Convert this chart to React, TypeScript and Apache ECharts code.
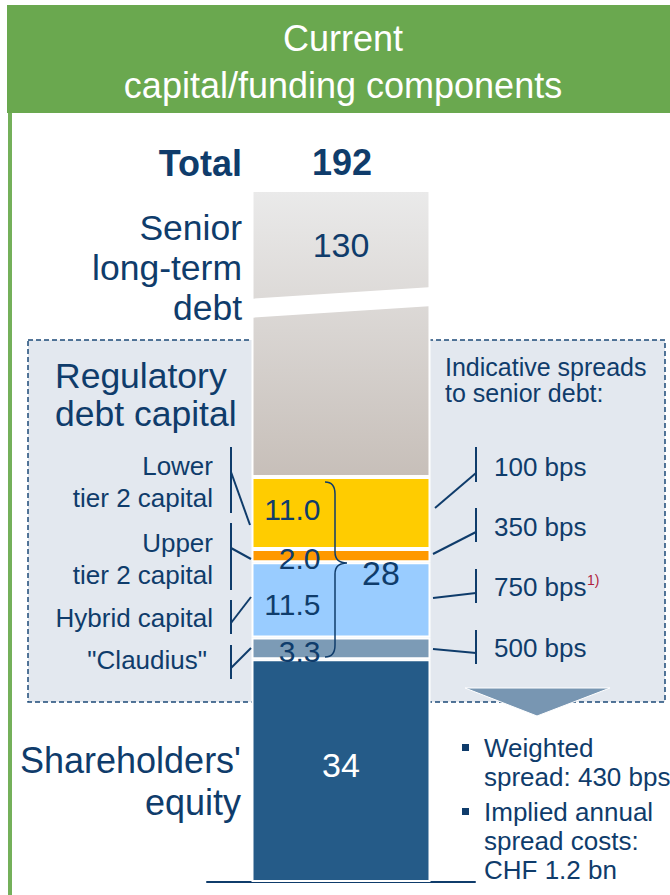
import React, { useEffect, useRef } from 'react';
import * as echarts from 'echarts';

// ---------- data ----------
const categories = ['Current'];
const segmentNames = ["Shareholders' equity", '"Claudius"', 'Hybrid capital', 'Upper tier 2 capital', 'Lower tier 2 capital', 'Senior long-term debt'];
const segmentValues = [34, 3.3, 11.5, 2.0, 11.0, 130];
const regulatoryIndices = [1, 2, 3, 4];
const spreadLabels = ['500 bps', '750 bps', '350 bps', '100 bps']; // for "Claudius", Hybrid, Upper T2, Lower T2
const bulletLines = [['Weighted', 'spread: 430 bps'], ['Implied annual', 'spread costs:', 'CHF 1.2 bn']];
const axisBreak = { start: 87, end: 176.1, gap: 2.9 };

// ---------- style ----------
const FF = '"Liberation Sans", Arial, Helvetica, sans-serif';
const NAVY = '#0f3c6b';
const GREEN = '#6aa84f';
const BIG = 35.5;
const SMALL = 26;
const segmentColors: any[] = [
  '#255b88',
  '#7c9bb6',
  '#99ccff',
  '#ff9900',
  '#ffcc00',
  new echarts.graphic.LinearGradient(0, 0, 0, 1, [
    { offset: 0, color: '#eaeaea' },
    { offset: 1, color: '#c7bfb9' },
  ]),
];
const labelNudge = [-6, 3, 5, 2.5, -3.5, 0];

echarts.graphic.registerShape(
  'brace',
  echarts.graphic.extendPath(
    'M0,0 C6,0 10,3 10,12 L10,70 C10,77 13,81 22,81 C13,81 10,85 10,92 L10,163 C10,172 6,175 0,175',
    {}
  )
);

function txt(text: string, x: number, y: number, size: number, align = 'left', opts: any = {}) {
  return {
    type: 'text', x, y, z: 10, silent: true,
    style: {
      text, fill: opts.fill || NAVY, fontSize: size, fontFamily: FF,
      fontWeight: opts.bold ? 'bold' : 'normal', align, verticalAlign: 'middle',
    },
  };
}
function ln(x1: number, y1: number, x2: number, y2: number, w = 2) {
  return { type: 'line', z: 10, silent: true, shape: { x1, y1, x2, y2 }, style: { stroke: NAVY, lineWidth: w } };
}

function fmt(i: number) {
  const v = segmentValues[i];
  return i === 0 || i === 5 ? String(v) : v.toFixed(1);
}

function labelFor(i: number) {
  if (i === 0) {
    return { show: true, position: 'inside', offset: [0, labelNudge[i]], color: '#fff', fontSize: 34, fontFamily: FF, formatter: fmt(i) };
  }
  if (i === 5) {
    return { show: true, position: ['50%', 55], align: 'center', verticalAlign: 'middle', color: NAVY, fontSize: 34, fontFamily: FF, formatter: fmt(i) };
  }
  return {
    show: true, position: [69, '50%'], align: 'right', verticalAlign: 'middle',
    offset: [0, labelNudge[i]], color: NAVY, fontSize: 30, fontFamily: FF, formatter: fmt(i),
  };
}

export default function App() {
  const ref = useRef<HTMLDivElement>(null);
  useEffect(() => {
    if (!ref.current) return;
    const chart = echarts.init(ref.current, undefined, { renderer: 'svg' });
    const total = segmentValues.reduce((a, b) => a + b, 0);
    const regTotal = regulatoryIndices.reduce((a, i) => a + segmentValues[i], 0);
    const barWidth = 179;

    chart.setOption({
      animation: false,
      grid: { left: 207, right: 195, top: 190, bottom: 13, containLabel: false },
      xAxis: {
        type: 'category', data: categories,
        axisLine: { show: true, lineStyle: { color: NAVY, width: 2 } },
        axisTick: { show: false }, axisLabel: { show: false }, splitLine: { show: false },
      },
      yAxis: {
        type: 'value', min: 0, max: total,
        axisLine: { show: false }, axisTick: { show: false }, axisLabel: { show: false }, splitLine: { show: false },
        breaks: [{ start: axisBreak.start, end: axisBreak.end, gap: axisBreak.gap }],
        breakArea: { show: false, itemStyle: { color: 'rgba(0,0,0,0)', borderWidth: 0 } },
      },
      series: segmentValues.map((v, i) => ({
        name: segmentNames[i], type: 'bar', stack: 'total', barWidth, silent: true,
        data: [v],
        itemStyle: { color: segmentColors[i], borderColor: '#fff', borderWidth: 2 },
        label: labelFor(i),
      })),
    });

    const p1 = chart.convertToPixel({ gridIndex: 0 }, [0, axisBreak.start]) as number[];
    const p2 = chart.convertToPixel({ gridIndex: 0 }, [0, axisBreak.end]) as number[];
    const yc = (p1[1] + p2[1]) / 2;
    const half = Math.abs(p1[1] - p2[1]) / 2;
    const xl = p1[0] - barWidth / 2 - 2;
    const xr = p1[0] + barWidth / 2 + 2;
    const slant = 6;

    const g: any[] = [
      // header
      { type: 'rect', z: 1, silent: true, shape: { x: 7, y: 5, width: 663, height: 108 }, style: { fill: GREEN } },
      { type: 'rect', z: 1, silent: true, shape: { x: 8, y: 113, width: 4, height: 782 }, style: { fill: '#74b05a' } },
      txt('Current', 343, 38, 36, 'center', { fill: '#fff' }),
      txt('capital/funding components', 343, 85, 36, 'center', { fill: '#fff' }),
      // regulatory box
      { type: 'rect', z: 0, silent: true, shape: { x: 28, y: 340, width: 637, height: 362 }, style: { fill: '#e3e8ef', stroke: '#1c4a78', lineWidth: 1.5, lineDash: [5, 3] } },
      // totals
      txt('Total', 242, 163, 36, 'right', { bold: true }),
      txt(String(Math.round(total)), p1[0] + 1, 162, 36, 'center', { bold: true }),
      // left labels
      txt('Senior', 242, 228, BIG, 'right'),
      txt('long-term', 242, 268, BIG, 'right'),
      txt('debt', 242, 308, BIG, 'right'),
      txt('Regulatory', 55, 376, BIG, 'left'),
      txt('debt capital', 55, 414, BIG, 'left'),
      txt('Lower', 213, 466, SMALL, 'right'),
      txt('tier 2 capital', 213, 498, SMALL, 'right'),
      txt('Upper', 213, 543, SMALL, 'right'),
      txt('tier 2 capital', 213, 575, SMALL, 'right'),
      txt(segmentNames[2], 213, 618, SMALL, 'right'),
      txt(segmentNames[1], 207, 660, SMALL, 'right'),
      txt('Shareholders\'', 241, 760, 36, 'right'),
      txt('equity', 241, 802, 36, 'right'),
      // left connectors
      ln(231, 447, 231, 513), ln(231, 472, 250, 525),
      ln(231, 523, 231, 590), ln(231, 548, 251, 559),
      ln(231, 600, 231, 634), ln(231, 623, 251, 597),
      ln(231, 645, 231, 679), ln(231, 668, 251, 648),
      // right texts
      txt('Indicative spreads', 445, 366.5, 25, 'left'),
      txt('to senior debt:', 445, 393, 25, 'left'),
      txt(spreadLabels[3], 494, 467, SMALL, 'left'),
      txt(spreadLabels[2], 494, 527, SMALL, 'left'),
      txt(spreadLabels[1], 494, 587, SMALL, 'left'),
      txt('1)', 587, 580, 14, 'left', { fill: '#b01e3c' }),
      txt(spreadLabels[0], 494, 648, SMALL, 'left'),
      // right connectors
      ln(476, 447, 476, 482), ln(476, 473, 435, 508),
      ln(476, 508, 476, 542), ln(476, 532, 433, 554),
      ln(476, 569, 476, 603), ln(476, 593, 433, 598),
      ln(476, 630, 476, 664), ln(476, 653, 433, 649),
      // brace + regulatory total
      { type: 'brace', z: 10, silent: true, x: 325, y: 482, style: { fill: 'none', stroke: NAVY, lineWidth: 1.5 } },
      txt(String(Math.round(regTotal)), 381, 573, 34, 'center'),
      // arrow
      { type: 'polygon', z: 10, silent: true, shape: { points: [[465, 688], [610, 688], [537, 716]] }, style: { fill: '#7896b2', stroke: '#fff', lineWidth: 1 } },
      // axis break band
      {
        type: 'polygon', z: 20, silent: true,
        shape: { points: [[xl, yc + half + slant], [xr, yc + half - slant], [xr, yc - half - slant], [xl, yc - half + slant]] },
        style: { fill: '#fff' },
      },
    ];
    // bullets
    let y = 748;
    bulletLines.forEach((lines) => {
      g.push({ type: 'rect', z: 10, silent: true, shape: { x: 462, y: y - 4, width: 7, height: 7 }, style: { fill: NAVY } });
      lines.forEach((l) => {
        g.push(txt(l, 484, y, SMALL, 'left'));
        y += 29;
      });
      y += 6;
    });

    chart.setOption({ graphic: g });
    return () => chart.dispose();
  }, []);
  return <div ref={ref} style={{ position: 'absolute', left: 0, top: 0, width: 670, height: 895 }} />;
}
